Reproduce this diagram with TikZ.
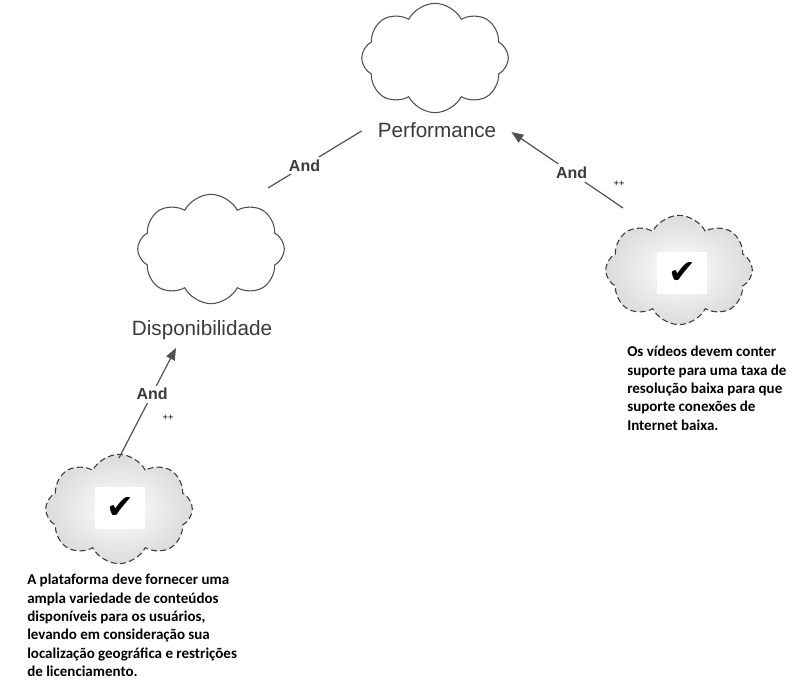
\documentclass[tikz,border=0pt]{standalone}
\usepackage{fontspec}
\setmainfont{Liberation Sans}
\newfontfamily\notefont{Carlito}
\newfontfamily\symfont{DejaVu Sans}
\usetikzlibrary{shapes.symbols}
\usetikzlibrary{arrows.meta}
\usetikzlibrary{positioning}

\definecolor{inkgray}{RGB}{58,58,58}
\definecolor{linegray}{RGB}{80,80,80}

\begin{document}
\begin{tikzpicture}[x=0.75pt,y=0.75pt,yscale=-1,xscale=1,
  goalcloud/.style={cloud, cloud puffs=8, cloud puff arc=125, aspect=1.35, draw=linegray, line width=0.8pt, fill=white, minimum width=110pt, minimum height=82pt, inner sep=0pt},
  okcloud/.style={goalcloud, draw=inkgray, dash pattern=on 4.5pt off 2.5pt, inner color=white, outer color=black!14},
  goallabel/.style={inner sep=0pt, text=inkgray, font=\fontsize{15.5}{18}\selectfont},
  andlabel/.style={fill=white, inner sep=2pt, text=inkgray, font=\bfseries\fontsize{12}{14}\selectfont},
  checkbox/.style={fill=white, minimum width=37.5pt, minimum height=32pt, inner sep=0pt, font=\symfont\fontsize{25}{25}\selectfont},
  note/.style={anchor=north west, align=left, inner sep=0pt, font=\notefont\bfseries\fontsize{11.25}{13.8}\selectfont},
  plusmark/.style={inner sep=0pt, font=\fontsize{7}{7}\selectfont},
  link/.style={draw=linegray, line width=0.9pt},
  arrowlink/.style={link, -{Triangle[length=9pt,width=7pt]}}]
\useasboundingbox (0,0) rectangle (798,680);

% Clouds
\node[goalcloud] (perfCloud) at (435,58) {};
\node[goalcloud] (dispCloud) at (211,249) {};
\node[okcloud] (okB) at (679,270) {};
\node[okcloud] (okA) at (119,509) {};

% Check marks
\node[checkbox] (okBmark) at (682,273) {✔};
\node[checkbox] (okAmark) at (120,508) {✔};

% Text Node
\node[goallabel] (perfLabel) at (437,130) {Performance};
% Text Node
\node[goallabel] (dispLabel) at (202,330) {Disponibilidade};

% Text Node
\node[note] (noteB) at (627,346) {Os vídeos devem conter\\suporte para uma taxa de\\resolução baixa para que\\suporte conexões de\\Internet baixa.};
% Text Node
\node[note] (noteA) at (27,574) {A plataforma deve fornecer uma\\ampla variedade de conteúdos\\disponíveis para os usuários,\\levando em consideração sua\\localização geográfica e restrições\\de licenciamento.};

%Straight Lines
\draw[link] ([shift={(57,-61)}]dispCloud.center) -- node[andlabel, pos=0.39] (andA) {And} ([shift={(-16,1)}]perfLabel.west);
\draw[arrowlink] ([shift={(-56,-62)}]okB.center) -- node[andlabel, pos=0.46] (andB) {And} ([shift={(15,2)}]perfLabel.east);
\draw[arrowlink] ([shift={(0,-51)}]okA.center) -- node[andlabel, pos=0.58] (andC) {And} ([shift={(-26,8)}]dispLabel.south);

% Text Node
\node[plusmark] (plusB) at (619,184) {++};
\node[plusmark] (plusA) at (168,418) {++};

\end{tikzpicture}
\end{document}
